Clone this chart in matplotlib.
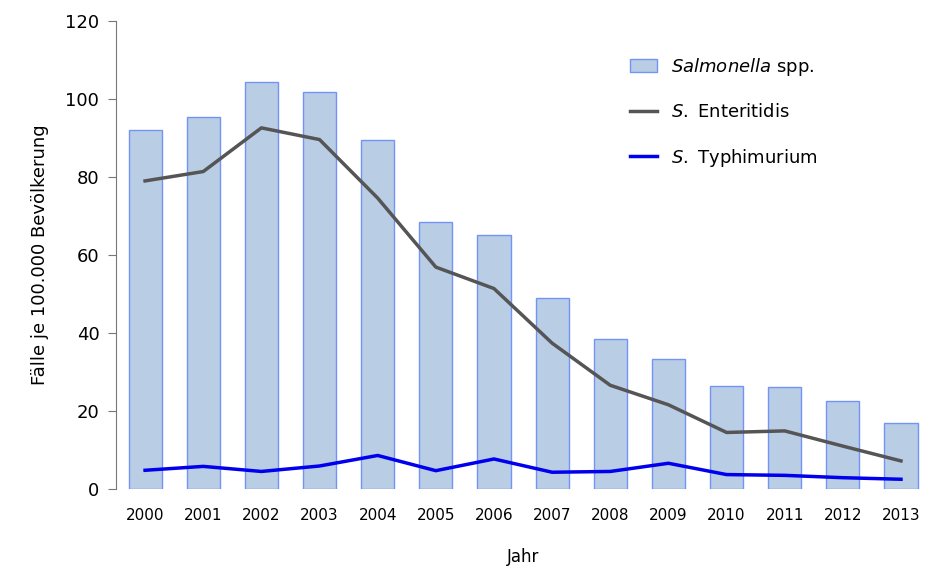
import matplotlib.pyplot as plt
import numpy as np

years = ['2000', '2001', '2002', '2003', '2004', '2005', '2006',
         '2007', '2008', '2009', '2010', '2011', '2012', '2013']
salmonella_spp = [92.0, 95.4, 104.4, 101.8, 89.5, 68.5, 65.2,
                  49.0, 38.5, 33.3, 26.4, 26.2, 22.5, 16.9]
enteritidis = [79.0, 81.4, 92.6, 89.6, 74.6, 56.9, 51.4,
               37.4, 26.6, 21.6, 14.5, 14.9, 11.0, 7.2]
typhimurium = [4.8, 5.8, 4.5, 5.9, 8.6, 4.7, 7.7,
               4.3, 4.5, 6.6, 3.7, 3.5, 2.9, 2.5]

plt.rcParams['font.family'] = ['DejaVu Sans']
plt.rcParams['mathtext.fontset'] = 'custom'
plt.rcParams['mathtext.it'] = 'DejaVu Sans:italic'
plt.rcParams['mathtext.rm'] = 'DejaVu Sans'

fig = plt.figure(figsize=(9.31, 5.71), dpi=100)
ax = fig.add_axes([0.1246, 0.1436, 0.8744, 0.8196])

x = np.arange(len(years))
bars = ax.bar(x, salmonella_spp, width=0.57, color='#b9cde5', edgecolor='#7394f7',
              linewidth=1.0, label='$\\mathit{Salmonella}$ spp.', zorder=1)
l_ent, = ax.plot(x, enteritidis, color='#555555', linewidth=2.5,
                 label='$\\mathit{S.}$ Enteritidis', zorder=2)
l_typ, = ax.plot(x, typhimurium, color='#0000ee', linewidth=2.5,
                 label='$\\mathit{S.}$ Typhimurium', zorder=3)

ax.set_xlim(-0.5, len(years) - 0.5)
ax.set_ylim(0, 120)
ax.set_yticks(range(0, 121, 20))
ax.set_xticks(x)
ax.set_xticklabels(years)

for side in ('top', 'right', 'bottom'):
    ax.spines[side].set_visible(False)
ax.spines['left'].set_color('#777777')
ax.tick_params(axis='y', labelsize=13, length=6, color='#777777', pad=6)
ax.tick_params(axis='x', labelsize=11, length=0, pad=14)

ax.set_ylabel('Fälle je 100.000 Bevölkerung', fontsize=13, labelpad=12)
ax.set_xlabel('Jahr', fontsize=12, labelpad=18)

ax.legend(handles=[bars, l_ent, l_typ], loc='upper left',
          bbox_to_anchor=(0.611, 0.96), frameon=False,
          fontsize=13, labelspacing=1.4, handlelength=1.5, handletextpad=0.8)

fig.savefig('out.png', dpi=100)
